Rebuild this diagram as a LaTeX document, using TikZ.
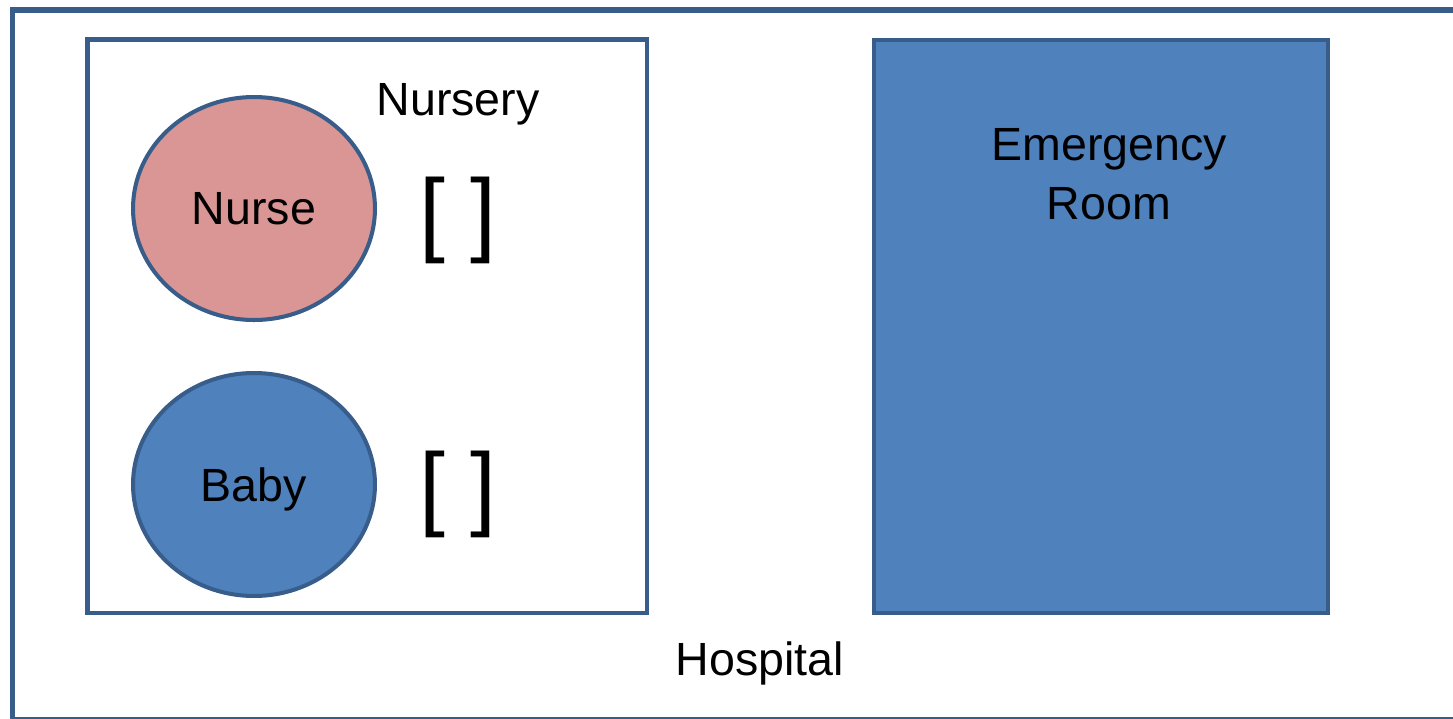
\documentclass[tikz,border=0pt]{standalone}
\usepackage{fontspec}
\setmainfont{Liberation Sans}
\usetikzlibrary{positioning,shapes.geometric}
\definecolor{roomblue}{HTML}{4F81BD}
\definecolor{edgeblue}{HTML}{385D8A}
\definecolor{nursepink}{HTML}{D99694}

\begin{document}
\begin{tikzpicture}[
    x=0.02cm, y=-0.02cm,
    room/.style={rectangle, draw=edgeblue, line width=2.5pt, inner sep=0pt,
                 minimum height=11.47cm},
    person/.style={ellipse, draw=edgeblue, line width=2.3pt, inner sep=0pt,
                   minimum width=4.84cm, minimum height=4.46cm, text depth=0pt,
                   font=\fontsize{26.5}{31}\selectfont},
    tag/.style={anchor=base, inner sep=0pt, align=center,
                font=\fontsize{26.5}{33.4}\selectfont},
    slot/.style={inner sep=0pt, font=\fontsize{53}{60}\selectfont}
]
    \clip (0,0) rectangle (1453,718);

    % building and rooms
    \node[rectangle, draw=edgeblue, line width=3pt, fill=white,
          minimum width=28.96cm, minimum height=14.19cm] (hospital) at (736,364.75) {};
    \node[room, fill=white, minimum width=11.19cm] (nursery) at (367.25,326.25) {};
    \node[room, fill=roomblue, minimum width=9.08cm] (er) at (1101,326.5) {};

    % people in the nursery
    \node[person, fill=nursepink] (nurse) at (254,208.5) {Nurse};
    \node[person, fill=roomblue, below=0.98cm of nurse] (baby) {Baby};
    \node[slot] (nurseslot) at (458,220) {[ ]};
    \node[slot] (babyslot) at (458,494.5) {[ ]};

    % labels
    \node[tag] (nurserylabel) at (458,115) {Nursery};
    \node[tag] (erlabel) at (1109,219) {Emergency\\Room};
    \node[tag] (hospitallabel) at (760,675) {Hospital};
\end{tikzpicture}
\end{document}
